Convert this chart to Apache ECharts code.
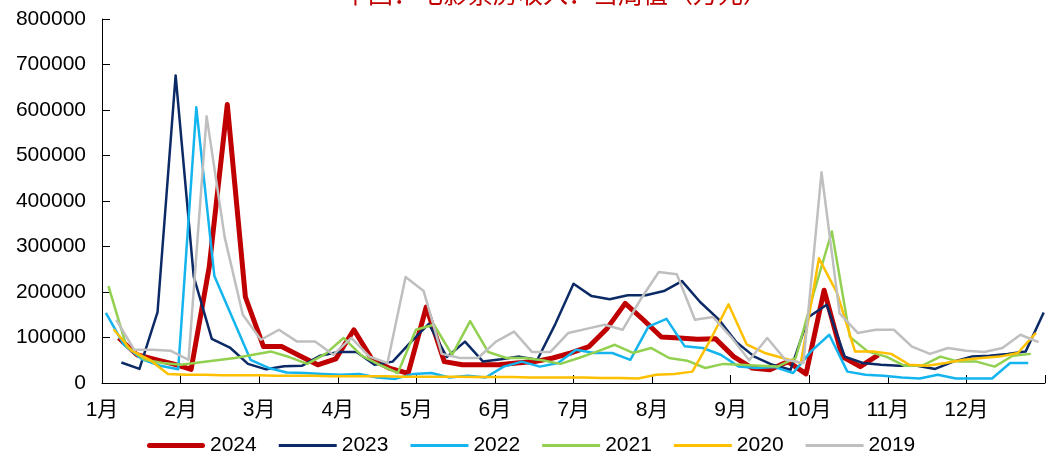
<!DOCTYPE html>
<html><head><meta charset="utf-8">
<script src="https://cdn.jsdelivr.net/npm/echarts@6/dist/echarts.min.js"></script>
<style>html,body{margin:0;padding:0;background:#fff}#c{width:1048px;height:454px}</style>
</head><body><div id="c"></div>
<script>
// ---- data ----
const monthLabels = ['1月','2月','3月','4月','5月','6月','7月','8月','9月','10月','11月','12月'];
const seriesNames = ['2024','2023','2022','2021','2020','2019'];
// first weekly date (day of January) of each series, in seriesNames order
const firstDay = [7, 8, 2, 3, 5, 6];

const v2024 = [99000,62000,52000,42000,30000,255000,612000,189000,80000,80000,
  60000,40000,53000,117000,52000,32000,21000,167000,47000,40000,
  40000,40000,44000,47000,55000,66000,80000,120000,175000,139000,
  101000,99000,96000,97000,58000,33000,29000,47000,20000,204000,
  58000,36000,62000];
const v2023 = [45000,31000,156000,676000,234000,97000,78000,42000,30000,37000,
  38000,60000,68000,68000,40000,47000,90000,130000,57000,91000,
  47000,52000,58000,51000,130000,218000,191000,184000,193000,193000,
  202000,224000,178000,141000,90000,58000,40000,29000,145000,172000,
  58000,44000,40000,38000,38000,31000,47000,58000,60000,64000,
  69000,155000];
const v2022 = [154000,84000,52000,38000,30000,606000,235000,143000,51000,33000,
  23000,22000,20000,18000,20000,12000,9000,20000,22000,12000,
  16000,12000,36000,47000,36000,44000,73000,66000,66000,51000,
  124000,141000,81000,77000,62000,36000,33000,35000,22000,70000,
  106000,25000,18000,16000,12000,10000,18000,10000,10000,10000,
  44000,44000];
const v2021 = [213000,80000,51000,44000,40000,45000,50000,55000,62000,69000,
  57000,42000,64000,99000,60000,40000,22000,117000,128000,62000,
  136000,68000,55000,55000,50000,42000,55000,69000,84000,66000,
  77000,55000,49000,33000,42000,40000,38000,36000,55000,198000,
  333000,101000,69000,58000,38000,38000,58000,47000,47000,36000,
  60000,64000];
const v2020 = [118000,71000,51000,20000,
  18000,18000,17000,17000,17000,16000,16000,16000,15000,15000,
  15000,15000,14000,14000,14000,14000,13000,13000,13000,12000,
  12000,12000,12000,11000,11000,10000,
  18000,20000,25000,95000,173000,85000,
  66000,55000,44000,274000,198000,69000,69000,64000,40000,38000,
  44000,51000,55000,58000,66000,110000];
const v2019 = [139000,73000,73000,71000,51000,586000,320000,150000,95000,117000,
  91000,91000,62000,99000,58000,44000,233000,202000,64000,55000,
  55000,91000,113000,68000,68000,110000,119000,128000,117000,184000,
  244000,239000,139000,145000,101000,50000,99000,51000,44000,463000,
  153000,110000,117000,117000,80000,64000,77000,71000,68000,77000,
  106000,90000];
const allValues = [v2024, v2023, v2022, v2021, v2020, v2019];

// ---- style ----
const colors = ['#C00000','#0C2A66','#14B4EE','#92D050','#FFC000','#BFBFBF'];
const widths = [5, 2.5, 2.5, 2.5, 2.5, 2.5];
const FONT = '"Liberation Sans", Arial, "Noto Sans CJK SC", sans-serif';
const iconThick = 'path://M0,0M58,14M2.5,4.5h53a2.5,2.5 0 0 1 0,5h-53a2.5,2.5 0 0 1 0,-5Z';
const iconThin = 'path://M0,0M58,14M0,5.5h58v3h-58Z';

// week position in months: day-of-year -> month units (12 per 365 days)
function toX(startDay, i) {
  const doy = startDay - 0.5 + 7 * i;
  return doy / 365 * 12;
}

const series = seriesNames.map((name, k) => ({
  name: name,
  type: 'line',
  symbol: 'none',
  showSymbol: false,
  data: allValues[k].map((v, i) => [toX(firstDay[k], i), v]),
  lineStyle: { color: colors[k], width: widths[k], join: 'round' },
  itemStyle: { color: colors[k] },
  z: 2,
  animation: false
}));

const chart = echarts.init(document.getElementById('c'));
chart.setOption({
  animation: false,
  backgroundColor: '#fff',
  title: {
    text: '中国：电影票房收入：当周值（万元）',
    left: 338, top: -24,
    textStyle: { color: '#C00000', fontSize: 25, fontWeight: 'normal', fontFamily: '"Noto Sans CJK SC", sans-serif' }
  },
  grid: { left: 102, right: 2, top: 19, bottom: 71, containLabel: false },
  legend: {
    left: 142, top: 430,
    itemWidth: 58, itemHeight: 14, itemGap: 22,
    textStyle: { fontSize: 21, color: '#000', fontFamily: FONT },
    itemStyle: { borderWidth: 0 },
    data: seriesNames.map((n, k) => ({ name: n, icon: k === 0 ? iconThick : iconThin }))
  },
  xAxis: {
    type: 'value', min: 0, max: 12, interval: 1,
    axisLine: { show: true, lineStyle: { color: '#000', width: 1 } },
    axisTick: { show: true, inside: true, length: 8, lineStyle: { color: '#000' } },
    axisLabel: {
      fontSize: 21, color: '#000', margin: 17, fontFamily: FONT,
      formatter: v => (v < 12 ? monthLabels[Math.round(v)] : '')
    },
    splitLine: { show: false }
  },
  yAxis: {
    type: 'value', min: 0, max: 800000, interval: 100000,
    axisLine: { show: true, lineStyle: { color: '#000', width: 1 } },
    axisTick: { show: true, inside: true, length: 8, lineStyle: { color: '#000' } },
    axisLabel: { fontSize: 21, color: '#000', margin: 16, fontFamily: FONT, formatter: v => String(v) },
    splitLine: { show: false }
  },
  series: series
});
</script></body></html>
